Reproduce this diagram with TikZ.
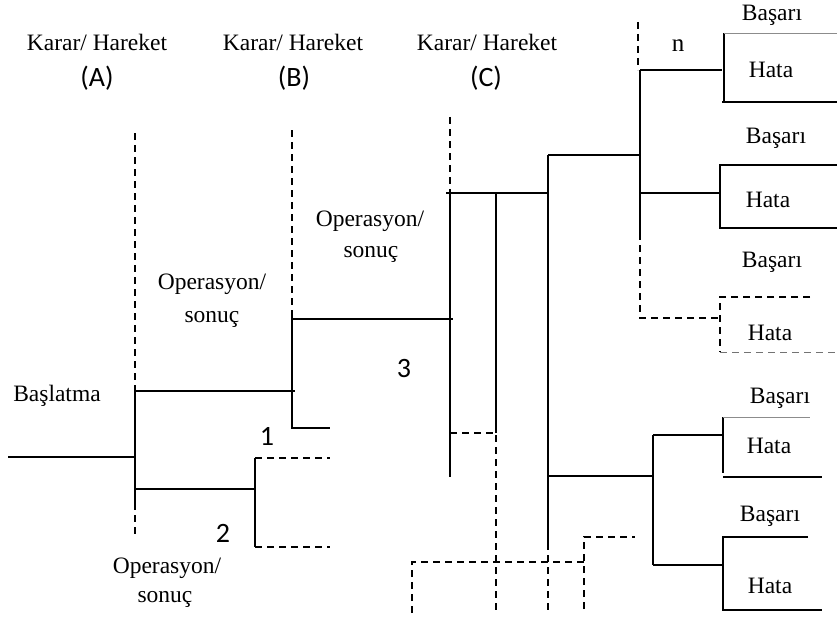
\documentclass[tikz,border=0pt]{standalone}
\usepackage{fontspec}
\setmainfont{Liberation Serif}
\newfontfamily\calib{Carlito}
\begin{document}
\begin{tikzpicture}[x=1pt,y=-1pt,
  ln/.style={line width=1.4pt,black,line cap=butt},
  dsh/.style={ln,dash pattern=on 7pt off 5pt},
  thn/.style={line width=0.7pt,black!45},
  thndsh/.style={line width=1pt,black!55,dash pattern=on 7pt off 5pt},
  lbl/.style={font=\fontsize{23.5}{28}\selectfont,anchor=base,inner sep=0pt},
  num/.style={font=\calib\fontsize{28}{32}\selectfont,anchor=base,inner sep=0pt}]
\useasboundingbox (0,0) rectangle (837,623);

% ---------- labels ----------
\node[lbl] (kA) at (97,51) {Karar/ Hareket};
\node[lbl] (kB) at (293,51) {Karar/ Hareket};
\node[lbl] (kC) at (487,51) {Karar/ Hareket};
\node[num] (lA) at (97,87) {(A)};
\node[num] (lB) at (294,87) {(B)};
\node[num] (lC) at (486,87) {(C)};
\node[lbl] (opC1) at (370,226) {Operasyon/};
\node[lbl] (opC2) at (371,257) {sonuç};
\node[lbl] (opB1) at (212,289) {Operasyon/};
\node[lbl] (opB2) at (212,322) {sonuç};
\node[lbl] (opA1) at (167,573) {Operasyon/};
\node[lbl] (opA2) at (165,602) {sonuç};
\node[lbl] (bas) at (57,401) {Başlatma};
\node[num] (n1) at (267,445) {1};
\node[num] (n2) at (223,542) {2};
\node[num] (n3) at (404,377) {3};
\node[lbl,font=\fontsize{25}{30}\selectfont] (nn) at (678,52) {n};
\node[lbl] (b1) at (772,21) {Başarı};
\node[lbl] (h1) at (771,78) {Hata};
\node[lbl] (b2) at (776,143) {Başarı};
\node[lbl] (h2) at (768,207) {Hata};
\node[lbl] (b3) at (772,267) {Başarı};
\node[lbl] (h3) at (770,340) {Hata};
\node[lbl] (b4) at (780,403) {Başarı};
\node[lbl] (h4) at (769,453) {Hata};
\node[lbl] (b5) at (770,521) {Başarı};
\node[lbl] (h5) at (770,593) {Hata};

% ---------- coordinates ----------
\coordinate (s0) at (8,457);   \coordinate (A0) at (135,457);
\coordinate (Atop) at (135,133); \coordinate (Am1) at (135,387);
\coordinate (Am2) at (135,503); \coordinate (Abot) at (135,537);
\coordinate (Au) at (135,391); \coordinate (Bu) at (295,391);
\coordinate (Al) at (135,489); \coordinate (Ll) at (255,489);
\coordinate (Lt) at (255,458); \coordinate (Ltr) at (330,458);
\coordinate (Lb) at (255,547); \coordinate (Lbr) at (330,547);
\coordinate (Btop) at (292,130); \coordinate (Bm) at (292,313);
\coordinate (Bb) at (292,428); \coordinate (Bbr) at (330,428);
\coordinate (Bh) at (292,319); \coordinate (Ch) at (453,319);
\coordinate (Ctop) at (450,117); \coordinate (Cm) at (450,190);
\coordinate (Cb) at (450,477);
\coordinate (Ct) at (446,193); \coordinate (Dt) at (496,193); \coordinate (Et) at (548,193);
\coordinate (Dm) at (496,433); \coordinate (Cd) at (450,433); \coordinate (Db) at (496,610);
\coordinate (Etop) at (548,155); \coordinate (Em) at (548,543); \coordinate (Eb) at (548,613);
\coordinate (Ftop) at (640,155); \coordinate (F1) at (640,70); \coordinate (Fm) at (640,233);
\coordinate (Fd) at (638,22); \coordinate (Fd2) at (638,70);
\coordinate (F2) at (640,193); \coordinate (Fb) at (640,318);
\coordinate (G0) at (412,613); \coordinate (G1) at (412,562); \coordinate (G2) at (584,562);
\coordinate (H0) at (584,609); \coordinate (H1) at (584,537); \coordinate (H2) at (635,537);
\coordinate (Eh) at (548,476); \coordinate (K) at (653,476);
\coordinate (Kt) at (653,435); \coordinate (Kb) at (653,565);

% ---------- left part ----------
\draw[ln] (s0) -- (A0);
\draw[dsh] (Atop) -- (Am1);
\draw[ln] (Am1) -- (Am2);
\draw[dsh] (Am2) -- (Abot);
\draw[ln] (Au) -- (Bu);
\draw[ln] (Al) -- (Ll);
\draw[ln] (Lt) -- (Lb);
\draw[dsh] (Lt) -- (Ltr);
\draw[dsh] (Lb) -- (Lbr);
\draw[dsh] (Btop) -- (Bm);
\draw[ln] (Bm) -- (Bb) -- (Bbr);
\draw[ln] (Bh) -- (Ch);

% ---------- C part ----------
\draw[dsh] (Ctop) -- (Cm);
\draw[ln] (Cm) -- (Cb);
\draw[ln] (Ct) -- (Et);
\draw[ln] (Dt) -- (Dm);
\draw[dsh] (Cd) -- (Dm) -- (Db);
\draw[ln] (Etop) -- (Em);
\draw[dsh] (Em) -- (Eb);
\draw[dsh] (G0) -- (G1) -- (G2);
\draw[dsh] (H0) -- (H1) -- (H2);

% ---------- upper right ----------
\draw[ln] (Etop) -- (Ftop);
\draw[dsh] (Fd) -- (Fd2);
\draw[ln] (F1) -- (Fm);
\draw[dsh] (Fm) -- (Fb) -- (720,318);
% box 1
\draw[ln] (F1) -- (722,70);
\draw[ln] (724,33) -- (724,102);
\draw[thn] (724,33) -- (837,33);
\draw[ln] (722,102) -- (837,102);
% box 2
\draw[ln] (F2) -- (720,193);
\draw[ln] (837,165) -- (720,165) -- (720,228) -- (837,228);
% box 3 (dashed)
\draw[dsh] (810,297) -- (720,297) -- (720,352);
\draw[thndsh] (720,352) -- (837,352);

% ---------- lower right ----------
\draw[ln] (Eh) -- (K);
\draw[ln] (Kt) -- (Kb);
\draw[ln] (Kt) -- (722,435);
\draw[ln] (723,417) -- (723,473);
\draw[thn] (723,417) -- (810,417);
\draw[ln] (723,477) -- (822,477);
\draw[ln] (Kb) -- (723,565);
\draw[ln] (808,537) -- (723,537) -- (723,610) -- (822,610);
\end{tikzpicture}
\end{document}
